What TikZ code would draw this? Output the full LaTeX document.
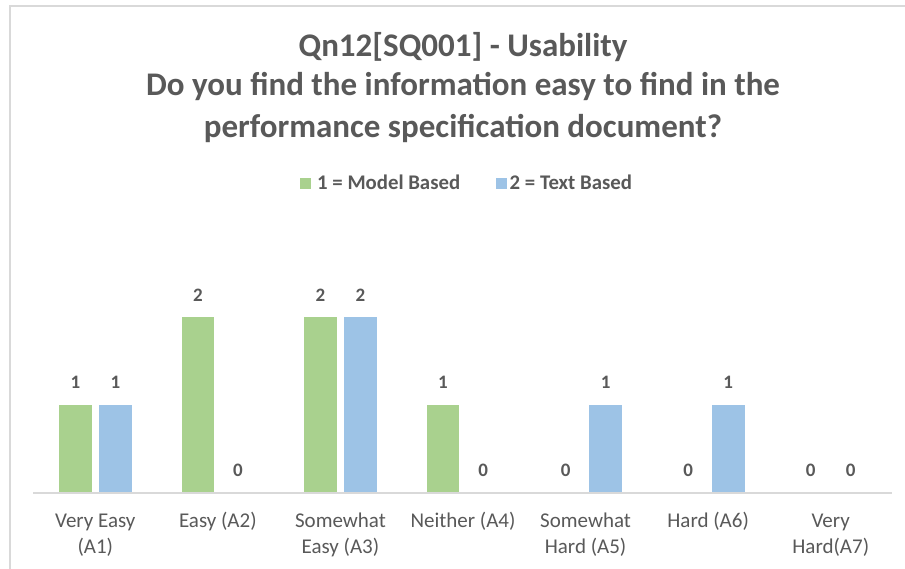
\documentclass[tikz,border=0pt]{standalone}
\usepackage{fontspec}
\setmainfont{Carlito}
\definecolor{txt}{HTML}{595959}
\definecolor{gridc}{HTML}{D9D9D9}
\definecolor{modelc}{HTML}{A9D18E}
\definecolor{textc}{HTML}{9DC3E6}
\begin{document}
\begin{tikzpicture}[x=1pt,y=-1pt,
  titletext/.style={font=\fontsize{33}{40}\selectfont\bfseries, text=txt, inner sep=0pt, anchor=base},
  legtext/.style={font=\fontsize{20.8}{24}\selectfont\bfseries, text=txt, inner sep=0pt, anchor=base west},
  valtext/.style={font=\fontsize{19}{22}\selectfont\bfseries, text=txt, inner sep=0pt, anchor=base},
  cattext/.style={font=\fontsize{21}{26.5}\selectfont, text=txt, inner sep=0pt, align=center, anchor=base},
  modelbar/.style={fill=modelc, draw=none},
  textbar/.style={fill=textc, draw=none},
  legbox/.style={minimum size=11pt, inner sep=0pt, draw=none}
]
\useasboundingbox (0,0) rectangle (905,569);
\fill[white] (0,0) rectangle (905,569);
% chart frame (top and left edges)
\draw[gridc, line width=1.6pt] (10,569) -- (10,6) -- (905,6);

% title
\node[titletext] (t1) at (463,56.5) {Qn12[SQ001] - Usability};
\node[titletext] (t2) at (463,96) {Do you find the information easy to find in the};
\node[titletext] (t3) at (463,137.5) {performance specification document?};

% legend
\node[legbox, fill=modelc] (lg1) at (305,183.6) {};
\node[legtext] (lt1) at (317,189.5) {1 = Model Based};
\node[legbox, fill=textc] (lg2) at (501.6,183.6) {};
\node[legtext] (lt2) at (509.5,189.5) {2 = Text Based};

% bars: category width 122.57, bar width 32.7, baseline 492.5, unit 87.6
\def\base{492.5}
\def\unit{87.6}
\foreach \i/\m/\t in {0/1/1, 1/2/0, 2/2/2, 3/1/0, 4/0/1, 5/0/1, 6/0/0} {
  \pgfmathsetmacro{\gx}{34+122.57*\i+25}
  \pgfmathsetmacro{\bx}{\gx+32.7+7.3}
  \pgfmathsetmacro{\gy}{\base-\unit*\m}
  \pgfmathsetmacro{\by}{\base-\unit*\t}
  \ifnum\m>0 \fill[modelbar] (\gx,\gy) rectangle ++(32.7,\unit*\m); \fi
  \ifnum\t>0 \fill[textbar] (\bx,\by) rectangle ++(32.7,\unit*\t); \fi
  \node[valtext] (vm\i) at (\gx+16.35,\gy-16) {\m};
  \node[valtext] (vt\i) at (\bx+16.35,\by-16) {\t};
}

% category axis
\draw[gridc, line width=1.6pt] (33,492.8) -- (892,492.8);

% category labels (base anchor sits on the last line)
\foreach \i/\lab/\yb in {0/{Very Easy\\(A1)}/553.5, 1/{Easy (A2)}/527, 2/{Somewhat\\Easy (A3)}/553.5, 3/{Neither (A4)}/527, 4/{Somewhat\\Hard (A5)}/553.5, 5/{Hard (A6)}/527, 6/{Very\\Hard(A7)}/553.5} {
  \node[cattext] (c\i) at (34+122.57*\i+61.3,\yb) {\lab};
}
\end{tikzpicture}
\end{document}
